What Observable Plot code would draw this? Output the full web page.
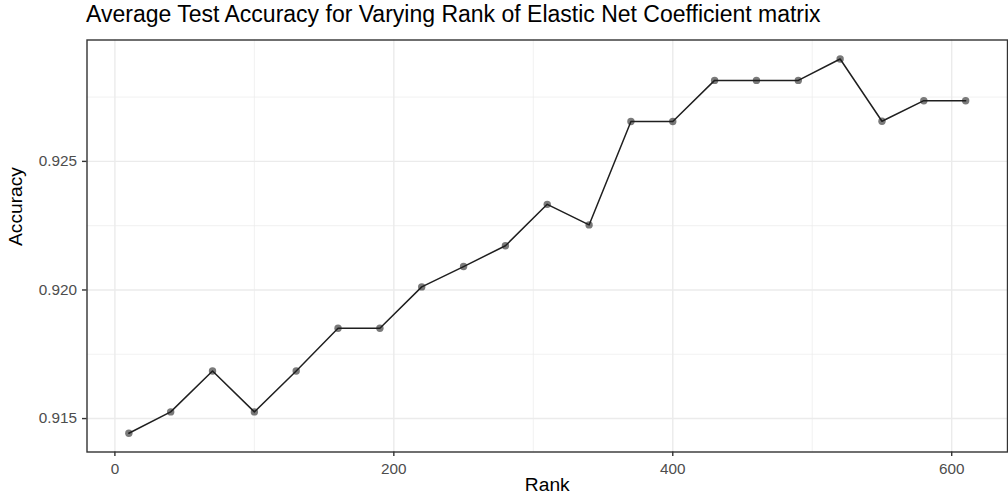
<!DOCTYPE html>
<html><head><meta charset="utf-8">
<script src="https://cdn.jsdelivr.net/npm/d3@7"></script>
<script src="https://cdn.jsdelivr.net/npm/@observablehq/plot@0.6"></script>
<style>
body{margin:0;background:#fff;}
#title{height:30px;box-sizing:border-box;padding-top:1px;padding-left:86px;line-height:26px;font-family:"Liberation Sans",Arial,sans-serif;font-size:23px;color:#000;white-space:nowrap;}
svg{display:block;font-family:"Liberation Sans",Arial,sans-serif;}
</style>
</head><body>
<div id="title">Average Test Accuracy for Varying Rank of Elastic Net Coefficient matrix</div>
<div id="chart"></div>
<script>
const ranks = [10,40,70,100,130,160,190,220,250,280,310,340,370,400,430,460,490,520,550,580,610];
const accuracy = [0.91443,0.91526,0.91685,0.91526,0.91685,0.91851,0.91851,0.92012,0.92091,0.92172,0.92333,0.92253,0.92655,0.92655,0.92815,0.92815,0.92815,0.92898,0.92656,0.92736,0.92736];
const xTicks = [0,200,400,600];
const xMinor = [100,300,500];
const yTicks = [0.915,0.920,0.925];
const yMinor = [0.9175,0.9225,0.9275];
const xTitle = "Rank";
const yTitle = "Accuracy";

const data = ranks.map((r,i)=>({rank:r, acc:accuracy[i]}));

const plot = Plot.plot({
  width:1008, height:470,
  marginLeft:86.5, marginRight:1, marginTop:9.5, marginBottom:48.5,
  x:{domain:[-20,640]},
  y:{domain:[0.9137,0.92972]},
  style:{fontFamily:'"Liberation Sans",Arial,sans-serif', background:"#fff"},
  marks:[
    Plot.gridX(xMinor,{stroke:"#ebebeb",strokeOpacity:1,strokeWidth:0.7}),
    Plot.gridY(yMinor,{stroke:"#ebebeb",strokeOpacity:1,strokeWidth:0.7}),
    Plot.gridX(xTicks,{stroke:"#ebebeb",strokeOpacity:1,strokeWidth:1.4}),
    Plot.gridY(yTicks,{stroke:"#ebebeb",strokeOpacity:1,strokeWidth:1.4}),
    Plot.dot(data,{x:"rank",y:"acc",r:3.7,fill:"#000",fillOpacity:0.52,stroke:"none"}),
    Plot.line(data,{x:"rank",y:"acc",stroke:"#1f1f1f",strokeWidth:1.5}),
    Plot.frame({stroke:"#333",strokeWidth:1.4}),
    Plot.axisX({ticks:xTicks,tickSize:4.5,tickPadding:6.5,stroke:"#333",strokeWidth:1.4,fill:"#4d4d4d",fontSize:15.3,label:null,tickFormat:d=>String(d)}),
    Plot.axisY({ticks:yTicks,tickSize:4.5,tickPadding:5.5,stroke:"#333",strokeWidth:1.4,fill:"#4d4d4d",fontSize:15.3,label:null,tickFormat:d3.format(".3f")}),
    Plot.text([xTitle],{frameAnchor:"bottom",text:d=>d,dy:39.3,fontSize:19.2,fill:"#000"}),
    Plot.text([yTitle],{frameAnchor:"left",text:d=>d,dx:-71,rotate:-90,fontSize:19.2,fill:"#000"})
  ]
});
document.getElementById("chart").appendChild(plot);
</script>
</body></html>
